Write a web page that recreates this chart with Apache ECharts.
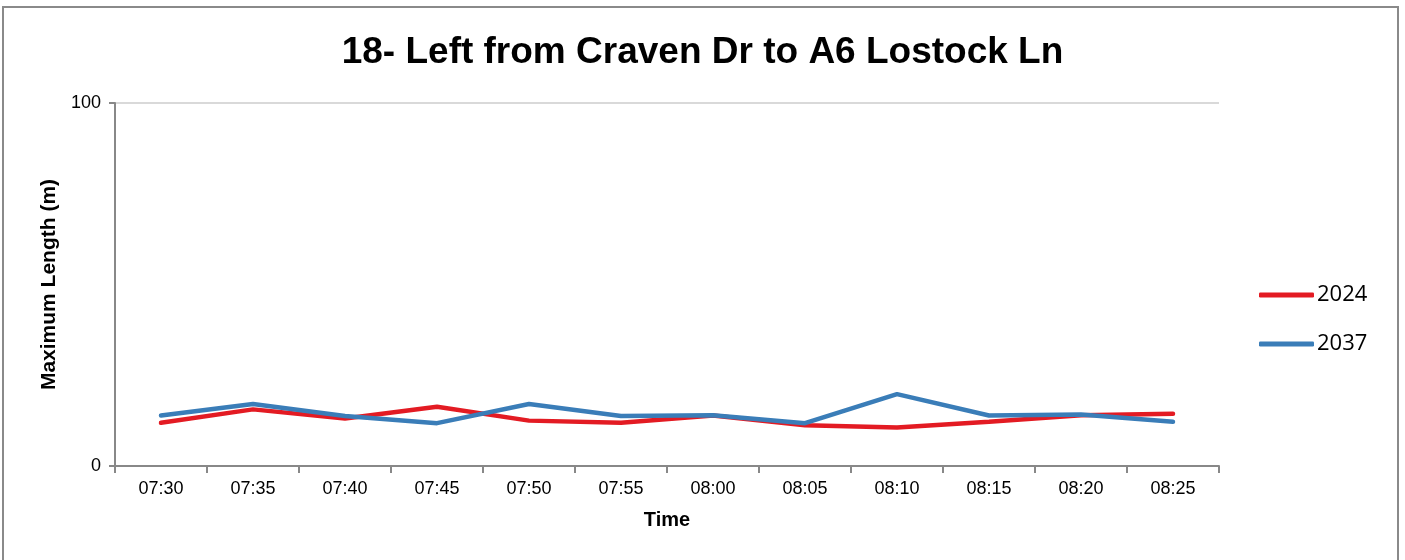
<!DOCTYPE html>
<html>
<head>
<meta charset="utf-8">
<script src="https://cdn.jsdelivr.net/npm/echarts@6/dist/echarts.min.js"></script>
<style>
  html, body { margin: 0; padding: 0; background: #fff; }
  #chart { width: 1405px; height: 560px; }
</style>
</head>
<body>
<div id="chart"></div>
<script>
var times = ['07:30', '07:35', '07:40', '07:45', '07:50', '07:55', '08:00', '08:05', '08:10', '08:15', '08:20', '08:25'];
var len2024 = [11.9, 15.6, 13.1, 16.3, 12.5, 11.9, 13.9, 11.2, 10.6, 12.2, 14.0, 14.4];
var len2037 = [13.9, 17.1, 13.8, 11.8, 17.1, 13.8, 14.0, 11.8, 19.8, 13.9, 14.2, 12.2];
var yTicks = [0, 100];

var chart = echarts.init(document.getElementById('chart'));

var option = {
    animation: false,
    backgroundColor: '#fff',
    graphic: [{
        type: 'rect',
        shape: { x: 3, y: 7, width: 1395, height: 560 },
        style: { fill: 'none', stroke: '#8a8a8a', lineWidth: 2 }
    }],
    title: {
        text: '18- Left from Craven Dr to A6 Lostock Ln',
        left: 'center',
        top: 29,
        textStyle: { fontFamily: 'Liberation Sans', fontSize: 37, fontWeight: 'bold', color: '#000' }
    },
    legend: {
        orient: 'vertical',
        left: 1259,
        top: 284,
        padding: 0,
        icon: 'roundRect',
        itemWidth: 55,
        itemHeight: 5,
        itemGap: 27,
        textStyle: { fontFamily: 'Open Sans', fontSize: 22, color: '#000', lineHeight: 22, padding: [0, 0, 0, -2] },
        data: ['2024', '2037']
    },
    grid: { left: 115, right: 186, top: 103, bottom: 94 },
    xAxis: {
        type: 'category',
        data: times,
        boundaryGap: true,
        name: 'Time',
        nameLocation: 'middle',
        nameGap: 44,
        nameTextStyle: { fontFamily: 'Liberation Sans', fontSize: 20, fontWeight: 'bold', color: '#000' },
        axisLine: { lineStyle: { color: '#888', width: 2 } },
        axisTick: { show: true, length: 7, lineStyle: { color: '#888', width: 2 } },
        axisLabel: { fontFamily: 'Liberation Sans', fontSize: 18, color: '#000', margin: 14 }
    },
    yAxis: {
        type: 'value',
        min: yTicks[0],
        max: yTicks[1],
        interval: 100,
        name: 'Maximum Length (m)',
        nameLocation: 'middle',
        nameGap: 48,
        nameTextStyle: { fontFamily: 'Liberation Sans', fontSize: 21, fontWeight: 'bold', color: '#000' },
        axisLine: { show: true, lineStyle: { color: '#888', width: 2 } },
        axisTick: { show: true, length: 6, lineStyle: { color: '#888', width: 2 } },
        axisLabel: { fontFamily: 'Liberation Sans', fontSize: 18, color: '#000', margin: 14 },
        splitLine: { show: true, lineStyle: { color: '#d9d9d9', width: 2 } }
    },
    series: [{
        name: '2024',
        type: 'line',
        data: len2024,
        symbol: 'none',
        color: '#e31b23',
        lineStyle: { width: 4.5, color: '#e31b23', cap: 'round' }
    }, {
        name: '2037',
        type: 'line',
        data: len2037,
        symbol: 'none',
        color: '#3a7db8',
        lineStyle: { width: 4.5, color: '#3a7db8', cap: 'round' }
    }]
};

chart.setOption(option);
</script>
</body>
</html>
